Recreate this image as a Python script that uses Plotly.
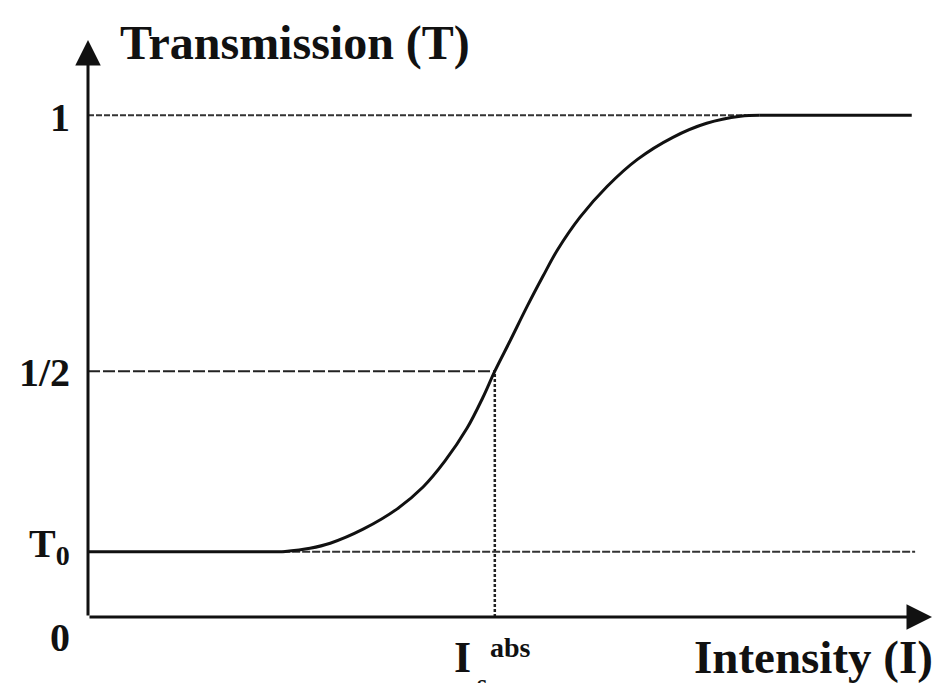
import plotly.graph_objects as go

# ---- data (x: intensity, arbitrary units; y: transmission) ----
curve_x = [0.0, 2.31, 2.63, 2.87, 3.26, 3.66, 3.97, 4.23, 4.49, 4.68, 4.82, 5.00, 5.20,
           5.39, 5.56, 5.83, 6.15, 6.51, 6.93, 7.33, 7.73, 7.96, 9.76]
curve_y = [0.13, 0.13, 0.137, 0.147, 0.175, 0.215, 0.259, 0.311, 0.376, 0.438, 0.49, 0.55,
           0.618, 0.679, 0.731, 0.797, 0.858, 0.912, 0.956, 0.984, 0.998, 1.0, 1.0]

T0 = 0.13
T_half = 0.49
T_one = 1.0
I_s = 4.82
x_max = 10.0
y_max = 1.15

# label positions in paper units (placement only)
tick_text = ["<b>1</b>", "<b>1/2</b>", "<b>T<sub>0</sub></b>", "<b>0</b>"]
tick_pos = [0.866, 0.424, 0.123, -0.035]

FONT = "Liberation Serif"
INK = "#111111"

fig = go.Figure()

# reference (dashed / dotted) lines
fig.add_trace(go.Scatter(x=[0, 7.8], y=[T_one, T_one], mode="lines",
                         line=dict(color="#333", width=2, dash="6px,2px"), hoverinfo="skip"))
fig.add_trace(go.Scatter(x=[0, I_s], y=[T_half, T_half], mode="lines",
                         line=dict(color="#222", width=2, dash="12px,3px"), hoverinfo="skip"))
fig.add_trace(go.Scatter(x=[I_s, I_s], y=[0, T_half], mode="lines",
                         line=dict(color="#222", width=2.5, dash="3px,2px"), hoverinfo="skip"))
fig.add_trace(go.Scatter(x=[2.3, 9.8], y=[T0, T0], mode="lines",
                         line=dict(color="#333", width=2, dash="8px,2px"), hoverinfo="skip"))

# main curve: flat left part, sigmoid part, flat right part
fig.add_trace(go.Scatter(x=curve_x[:2], y=curve_y[:2], mode="lines",
                         line=dict(color=INK, width=3), hoverinfo="skip"))
fig.add_trace(go.Scatter(x=curve_x[1:-1], y=curve_y[1:-1], mode="lines",
                         line=dict(color=INK, width=3, shape="spline", smoothing=1.0),
                         hoverinfo="skip"))
fig.add_trace(go.Scatter(x=curve_x[-2:], y=curve_y[-2:], mode="lines",
                         line=dict(color=INK, width=3), hoverinfo="skip"))

ann = []
# axes with arrows
ann.append(dict(x=0, y=y_max, ax=0, ay=0, xref="x", yref="y", axref="x", ayref="y",
                text="", showarrow=True, arrowhead=2, arrowsize=1.7, arrowwidth=3,
                arrowcolor=INK, standoff=0))
ann.append(dict(x=x_max, y=0, ax=0, ay=0, xref="x", yref="y", axref="x", ayref="y",
                text="", showarrow=True, arrowhead=2, arrowsize=1.7, arrowwidth=3,
                arrowcolor=INK, standoff=0))

# tick labels
for p, t in zip(tick_pos, tick_text):
    ann.append(dict(x=-0.019, y=p, xref="paper", yref="paper", text=t, showarrow=False,
                    xanchor="right", yanchor="middle",
                    font=dict(family=FONT, size=40, color=INK)))

# axis titles
ann.append(dict(x=0.035, y=0.995, xref="paper", yref="paper", text="<b>Transmission (T)</b>",
                showarrow=False, xanchor="left", yanchor="middle",
                font=dict(family=FONT, size=48, color=INK)))
ann.append(dict(x=1.004, y=-0.069, xref="paper", yref="paper", text="<b>Intensity (I)</b>",
                showarrow=False, xanchor="right", yanchor="middle",
                font=dict(family=FONT, size=47, color=INK)))

# I_s^abs label
ann.append(dict(x=0.4443, y=-0.071, xref="paper", yref="paper", text="<b>I</b>",
                showarrow=False, xanchor="center", yanchor="middle",
                font=dict(family=FONT, size=44, color=INK)))
ann.append(dict(x=0.474, y=-0.052, xref="paper", yref="paper", text="<b>abs</b>",
                showarrow=False, xanchor="left", yanchor="middle",
                font=dict(family=FONT, size=28, color=INK)))
ann.append(dict(x=0.4585, y=-0.115, xref="paper", yref="paper", text="<b>s</b>",
                showarrow=False, xanchor="left", yanchor="middle",
                font=dict(family=FONT, size=26, color=INK)))

fig.update_layout(
    width=950, height=683,
    margin=dict(l=88, r=18, t=40, b=66),
    paper_bgcolor="white", plot_bgcolor="white",
    showlegend=False,
    xaxis=dict(range=[0, x_max], visible=False, fixedrange=True),
    yaxis=dict(range=[0, y_max], visible=False, fixedrange=True),
    annotations=ann,
)

fig.write_html("out.html")
